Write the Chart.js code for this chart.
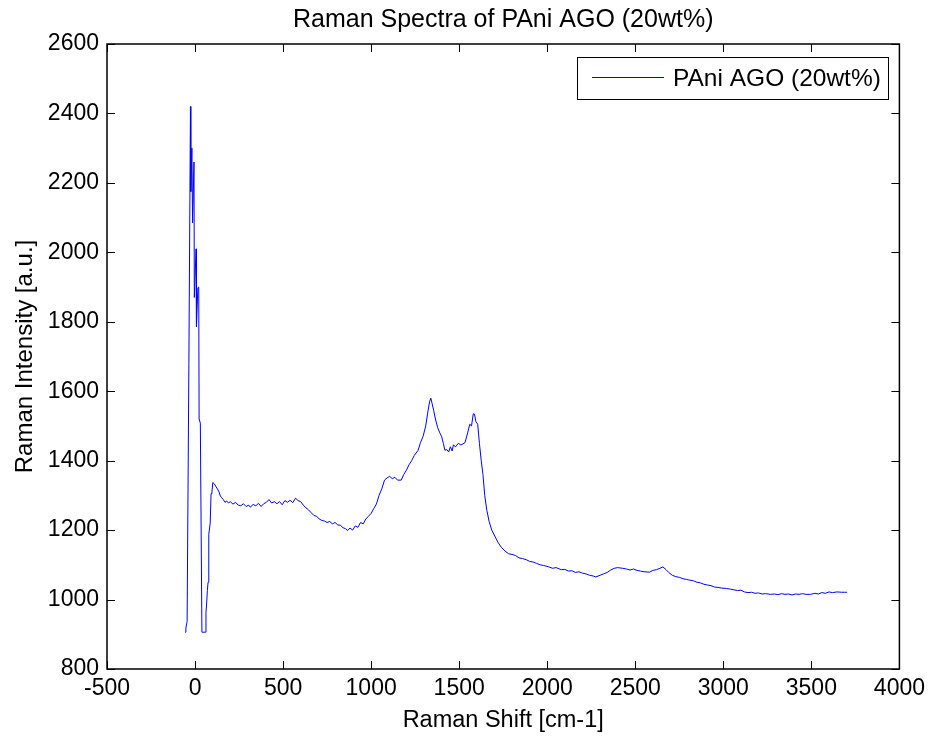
<!DOCTYPE html>
<html>
<head>
<meta charset="utf-8">
<script src="https://cdn.jsdelivr.net/npm/chart.js@4.4.1/dist/chart.umd.min.js"></script>
<style>
  body { margin: 0; background: #fff; }
  #ramanChart { display: block; }
</style>
</head>
<body>
<canvas id="ramanChart" width="931" height="740"></canvas>
<script>
// raman spectrum
const serieLabel = 'PAni AGO (20wt%)';
const shiftVals = [
  -57, -52, -45, -35, -26, -24, -18, -14, -6, -4, 6, 8, 16, 21, 23, 30, 39, 58, 62, 66,
  70, 74, 78, 86, 91, 96, 101, 110, 119, 128, 136, 144, 152, 160, 170, 180, 190, 200, 215, 230,
  245, 260, 275, 290, 305, 314, 330, 345, 360, 375, 390, 405, 420, 435, 450, 465, 480, 495, 510, 525,
  540, 555, 571, 585, 600, 615, 630, 645, 660, 675, 690, 705, 720, 735, 750, 765, 780, 795, 810, 825,
  840, 855, 867, 880, 895, 910, 925, 940, 955, 970, 985, 1000, 1015, 1030, 1045, 1060, 1076, 1090, 1105, 1120,
  1135, 1150, 1171, 1185, 1200, 1215, 1230, 1245, 1267, 1280, 1295, 1310, 1322, 1332, 1339, 1346, 1355, 1365, 1378, 1390,
  1400, 1410, 1419, 1430, 1440, 1450, 1460, 1467, 1480, 1495, 1510, 1533, 1548, 1560, 1570, 1580, 1587, 1595, 1605, 1615,
  1625, 1635, 1645, 1657, 1670, 1685, 1705, 1720, 1740, 1760, 1780, 1800, 1819, 1840, 1860, 1880, 1900, 1920, 1940, 1960,
  1980, 2010, 2030, 2050, 2080, 2100, 2120, 2140, 2160, 2180, 2200, 2220, 2240, 2260, 2276, 2300, 2320, 2340, 2360, 2380,
  2400, 2429, 2450, 2470, 2490, 2510, 2530, 2550, 2581, 2600, 2620, 2640, 2657, 2675, 2690, 2710, 2730, 2750, 2771, 2790,
  2810, 2830, 2850, 2870, 2890, 2910, 2930, 2950, 2970, 2990, 3017, 3040, 3060, 3080, 3100, 3120, 3140, 3160, 3180, 3200,
  3220, 3240, 3267, 3290, 3310, 3330, 3350, 3370, 3390, 3410, 3430, 3450, 3470, 3495, 3520, 3540, 3560, 3580, 3600, 3620,
  3646, 3670, 3690, 3703
];
const intensityVals = [
  906, 918, 937, 1680, 2420, 2175, 2300, 2085, 2260, 1870, 2010, 1786, 1898, 1900, 1520, 1508, 906, 906, 962, 990,
  1026, 1050, 1188, 1220, 1305, 1310, 1337, 1333, 1325, 1318, 1310, 1298, 1293, 1288, 1280, 1284, 1278, 1282, 1275, 1280,
  1272, 1270, 1276, 1268, 1272, 1266, 1274, 1270, 1277, 1268, 1276, 1280, 1288, 1278, 1282, 1276, 1282, 1273, 1285, 1280,
  1286, 1279, 1292, 1285, 1282, 1272, 1264, 1258, 1250, 1242, 1240, 1232, 1228, 1226, 1222, 1225, 1218, 1222, 1215, 1214,
  1207, 1204, 1199, 1206, 1200, 1212, 1208, 1222, 1218, 1232, 1240, 1248, 1262, 1275, 1300, 1318, 1344, 1350, 1355, 1348,
  1352, 1344, 1344, 1360, 1372, 1388, 1400, 1415, 1430, 1452, 1470, 1500, 1540, 1570, 1580, 1565, 1545, 1520, 1495, 1480,
  1470, 1450, 1430, 1432, 1425, 1440, 1428, 1445, 1440, 1450, 1445, 1452, 1480, 1505, 1500, 1535, 1534, 1512, 1505, 1450,
  1401, 1360, 1300, 1257, 1225, 1200, 1180, 1165, 1150, 1140, 1132, 1130, 1127, 1120, 1118, 1115, 1110, 1108, 1104, 1100,
  1098, 1094, 1090, 1092, 1086, 1087, 1082, 1083, 1078, 1080, 1076, 1074, 1070, 1068, 1065, 1070, 1074, 1078, 1085, 1090,
  1092, 1090, 1088, 1085, 1088, 1084, 1082, 1080, 1079, 1084, 1086, 1090, 1094, 1086, 1078, 1070, 1066, 1064, 1060, 1058,
  1056, 1054, 1050, 1048, 1044, 1042, 1040, 1036, 1035, 1033, 1032, 1030, 1028, 1026, 1027, 1022, 1020, 1021, 1018, 1019,
  1016, 1017, 1015, 1016, 1014, 1017, 1015, 1016, 1013, 1016, 1015, 1017, 1015, 1015, 1018, 1016, 1020, 1018, 1022, 1020,
  1022, 1021, 1021, 1021
];
const xTicks = [-500, 0, 500, 1000, 1500, 2000, 2500, 3000, 3500, 4000];
const yTicks = [800, 1000, 1200, 1400, 1600, 1800, 2000, 2200, 2400, 2600];

const fuente = "'Liberation Sans', Arial, sans-serif";

// caja + ticks hacia adentro, estilo matlab, y la leyenda
const marcoMatlab = {
  id: 'marcoMatlab',
  afterLayout(chart) {
    // titulo centrado sobre los ejes, como en matlab
    const a = chart.chartArea;
    if (chart.titleBlock) {
      chart.titleBlock.left = a.left;
      chart.titleBlock.right = a.right;
    }
  },
  afterDatasetsDraw(chart) {
    const ctx = chart.ctx;
    const a = chart.chartArea;
    const sx = chart.scales.x;
    const sy = chart.scales.y;
    const largo = 8;
    ctx.save();
    ctx.strokeStyle = '#000';
    ctx.lineWidth = 1;
    ctx.beginPath();
    xTicks.forEach(v => {
      const px = Math.round(sx.getPixelForValue(v)) + 0.5;
      ctx.moveTo(px, a.bottom); ctx.lineTo(px, a.bottom - largo);
      ctx.moveTo(px, a.top); ctx.lineTo(px, a.top + largo);
    });
    yTicks.forEach(v => {
      const py = Math.round(sy.getPixelForValue(v)) + 0.5;
      ctx.moveTo(a.left, py); ctx.lineTo(a.left + largo, py);
      ctx.moveTo(a.right, py); ctx.lineTo(a.right - largo, py);
    });
    ctx.stroke();
    ctx.lineWidth = 1.5;
    ctx.strokeRect(a.left, a.top, a.right - a.left, a.bottom - a.top);

    // leyenda
    const ds = chart.data.datasets[0];
    const bx = 577.5, by = 57.5, bw = 311, bh = 42;
    ctx.fillStyle = '#fff';
    ctx.fillRect(bx, by, bw, bh);
    ctx.lineWidth = 1;
    ctx.strokeRect(bx, by, bw, bh);
    ctx.strokeStyle = ds.borderColor;
    ctx.beginPath();
    ctx.moveTo(592, 77.5);
    ctx.lineTo(664, 77.5);
    ctx.stroke();
    ctx.fillStyle = '#000';
    ctx.font = '24.5px ' + fuente;
    ctx.textBaseline = 'middle';
    ctx.textAlign = 'left';
    ctx.fillText(ds.label, 673, 79);
    ctx.restore();
  }
};

function graficoRaman() {
  const puntos = shiftVals.map((x, i) => ({ x: x, y: intensityVals[i] }));
  const ctx = document.getElementById('ramanChart').getContext('2d');
  return new Chart(ctx, {
    type: 'line',
    data: {
      datasets: [{
        label: serieLabel,
        data: puntos,
        borderColor: 'rgb(0,0,255)',
        borderWidth: 1,
        pointRadius: 0,
        tension: 0,
        fill: false
      }]
    },
    options: {
      responsive: false,
      animation: false,
      devicePixelRatio: 1,
      layout: { padding: { left: 0, right: 31, top: 0, bottom: 0 } },
      plugins: {
        legend: { display: false },
        tooltip: { enabled: false },
        title: {
          display: true,
          text: 'Raman Spectra of PAni AGO (20wt%)',
          color: '#000',
          font: { family: fuente, size: 25, weight: 'normal' },
          padding: { top: 5, bottom: 9 }
        }
      },
      scales: {
        x: {
          type: 'linear',
          min: -500,
          max: 4000,
          afterFit: s => { s.height = 71; },
          afterBuildTicks: s => { s.ticks = xTicks.map(v => ({ value: v })); },
          grid: { display: false, drawTicks: false },
          border: { display: false },
          ticks: {
            color: '#000',
            font: { family: fuente, size: 23 },
            padding: 6,
            maxRotation: 0,
            autoSkip: false,
            callback: v => String(v)
          },
          title: {
            display: true,
            text: 'Raman Shift [cm-1]',
            color: '#000',
            font: { family: fuente, size: 23.5 },
            padding: { top: 0, bottom: 5 }
          }
        },
        y: {
          min: 800,
          max: 2600,
          afterFit: s => { s.width = 107; },
          afterBuildTicks: s => { s.ticks = yTicks.map(v => ({ value: v })); },
          grid: { display: false, drawTicks: false },
          border: { display: false },
          ticks: {
            color: '#000',
            font: { family: fuente, size: 23 },
            padding: 8,
            autoSkip: false,
            callback: v => String(v)
          },
          title: {
            display: true,
            text: 'Raman Intensity [a.u.]',
            color: '#000',
            font: { family: fuente, size: 24 },
            padding: { top: 11, bottom: 0 }
          }
        }
      }
    },
    plugins: [marcoMatlab]
  });
}

graficoRaman();
</script>
</body>
</html>
